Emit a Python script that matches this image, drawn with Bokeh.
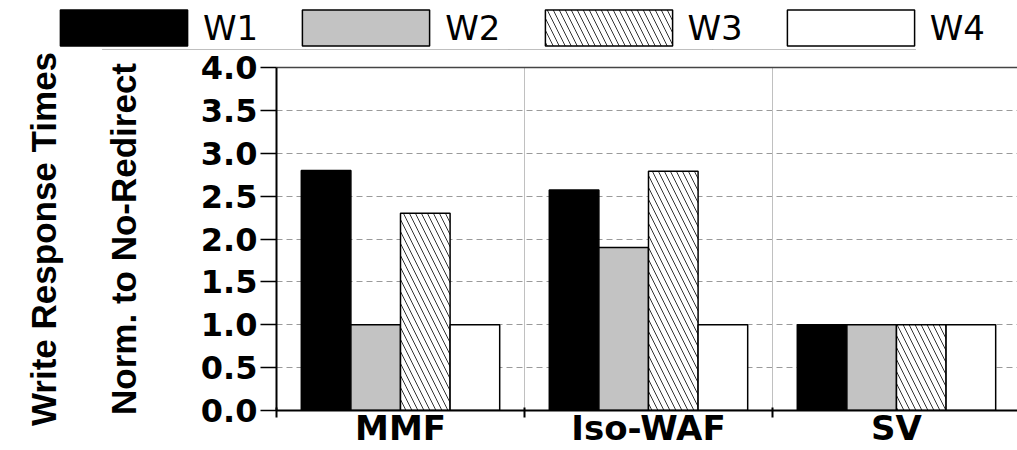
from bokeh.plotting import figure
from bokeh.layouts import column
from bokeh.models import (ColumnDataSource, FixedTicker, LinearAxis, Legend,
                          LegendItem, Range1d, Grid, PrintfTickFormatter)
from bokeh.embed import file_html
from bokeh.resources import INLINE

categories = ["MMF", "Iso-WAF", "SV"]
series_names = ["W1", "W2", "W3", "W4"]
w1 = [2.80, 2.57, 1.00]
w2 = [1.00, 1.90, 1.00]
w3 = [2.30, 2.79, 1.00]
w4 = [1.00, 1.00, 1.00]
y_ticks = [0.0, 0.5, 1.0, 1.5, 2.0, 2.5, 3.0, 3.5, 4.0]

series = [w1, w2, w3, w4]
offsets = [-0.3, -0.1, 0.1, 0.3]
fills = ["black", "#c3c3c3", "white", "white"]
hatches = [" ", " ", "\\", " "]
centers = [i + 0.5 for i in range(len(categories))]
bounds = [float(i) for i in range(len(categories) + 1)]

bar_style = dict(line_color="black", line_width=1.5, hatch_color="#333333",
                 hatch_weight=1, hatch_scale=12)

sources = [ColumnDataSource(dict(x=[c + off for c in centers], top=vals))
           for vals, off in zip(series, offsets)]

# ---------------- main chart ----------------
p = figure(width=1017, height=400, output_backend="svg", toolbar_location=None,
           x_range=Range1d(0, 2.988), y_range=Range1d(0, 4),
           x_axis_type=None, y_axis_type=None,
           min_border_left=276, min_border_top=17, min_border_bottom=40,
           min_border_right=0, outline_line_color=None,
           background_fill_color="white", border_fill_color="white")
p.frame_align = False

ygrid = Grid(dimension=1, ticker=FixedTicker(ticks=y_ticks),
             grid_line_color="#9a9a9a", grid_line_dash="6 4", grid_line_width=1)
xgrid = Grid(dimension=0, ticker=FixedTicker(ticks=bounds[1:-1]),
             grid_line_color="#c0c0c0", grid_line_width=1)
p.add_layout(ygrid)
p.add_layout(xgrid)

for src, fc, h in zip(sources, fills, hatches):
    p.vbar(x="x", top="top", bottom=0, width=0.2, source=src,
           fill_color=fc, hatch_pattern=h, **bar_style)

yaxis = LinearAxis(ticker=FixedTicker(ticks=y_ticks, minor_ticks=[]))
yaxis.formatter = PrintfTickFormatter(format="%.1f")
yaxis.axis_line_width = 2
yaxis.axis_line_color = "black"
yaxis.major_tick_out = 16
yaxis.major_tick_in = 0
yaxis.major_tick_line_width = 1.5
yaxis.major_tick_line_color = "black"
yaxis.major_label_text_font = "DejaVu Sans"
yaxis.major_label_text_font_style = "bold"
yaxis.major_label_text_font_size = "32px"
yaxis.major_label_text_color = "black"
yaxis.major_label_standoff = 3
yaxis.axis_label = "Write Response Times\nNorm. to No-Redirect"
yaxis.axis_label_text_font = "Liberation Sans"
yaxis.axis_label_text_font_style = "bold"
yaxis.axis_label_text_font_size = "35px"
yaxis.axis_label_text_line_height = 2.05
yaxis.axis_label_text_color = "black"
yaxis.axis_label_standoff = 55
p.add_layout(yaxis, "left")

xaxis = LinearAxis(ticker=FixedTicker(ticks=centers, minor_ticks=bounds))
xaxis.major_label_overrides = {c: t for c, t in zip(centers, categories)}
xaxis.major_label_text_font = "DejaVu Sans"
xaxis.major_label_text_font_style = "bold"
xaxis.major_label_text_font_size = "34px"
xaxis.major_label_text_color = "black"
xaxis.major_label_standoff = -10
xaxis.axis_line_width = 2
xaxis.axis_line_color = "black"
xaxis.major_tick_out = 0
xaxis.major_tick_in = 0
xaxis.major_tick_line_color = None
xaxis.minor_tick_out = 7
xaxis.minor_tick_in = 3
xaxis.minor_tick_line_width = 2
xaxis.minor_tick_line_color = "black"
p.add_layout(xaxis, "below")

top = LinearAxis(ticker=FixedTicker(ticks=[]))
top.axis_line_color = "#444444"
top.axis_line_width = 1.5
top.major_tick_line_color = None
top.minor_tick_line_color = None
top.major_label_standoff = 0
top.major_label_text_font_size = "0px"
p.add_layout(top, "above")

# ---------------- legend strip ----------------
lg = figure(width=1017, height=50, output_backend="svg", toolbar_location=None,
            x_range=Range1d(0, 1), y_range=Range1d(10, 11),
            x_axis_type=None, y_axis_type=None, min_border=0,
            outline_line_color=None, background_fill_color="white",
            border_fill_color="white")
lg.frame_align = False
leg_renderers = []
for src, fc, h in zip(sources, fills, hatches):
    leg_renderers.append(lg.vbar(x="x", top="top", bottom=0, width=0.2, source=src,
                                 fill_color=fc, hatch_pattern=h, **bar_style))

legend = Legend(items=[LegendItem(label=n, renderers=[r]) for n, r in zip(series_names, leg_renderers)],
                orientation="horizontal", location=(44, 0),
                glyph_width=159, glyph_height=45, label_height=36,
                label_standoff=0, spacing=28, padding=0, margin=0,
                border_line_color=None, background_fill_color=None,
                background_fill_alpha=0,
                label_text_font="DejaVu Sans", label_text_font_size="34px",
                label_text_color="black")
lg.add_layout(legend, "center")

layout = column(lg, p, spacing=0)
open("out.html", "w").write(file_html(layout, INLINE))
